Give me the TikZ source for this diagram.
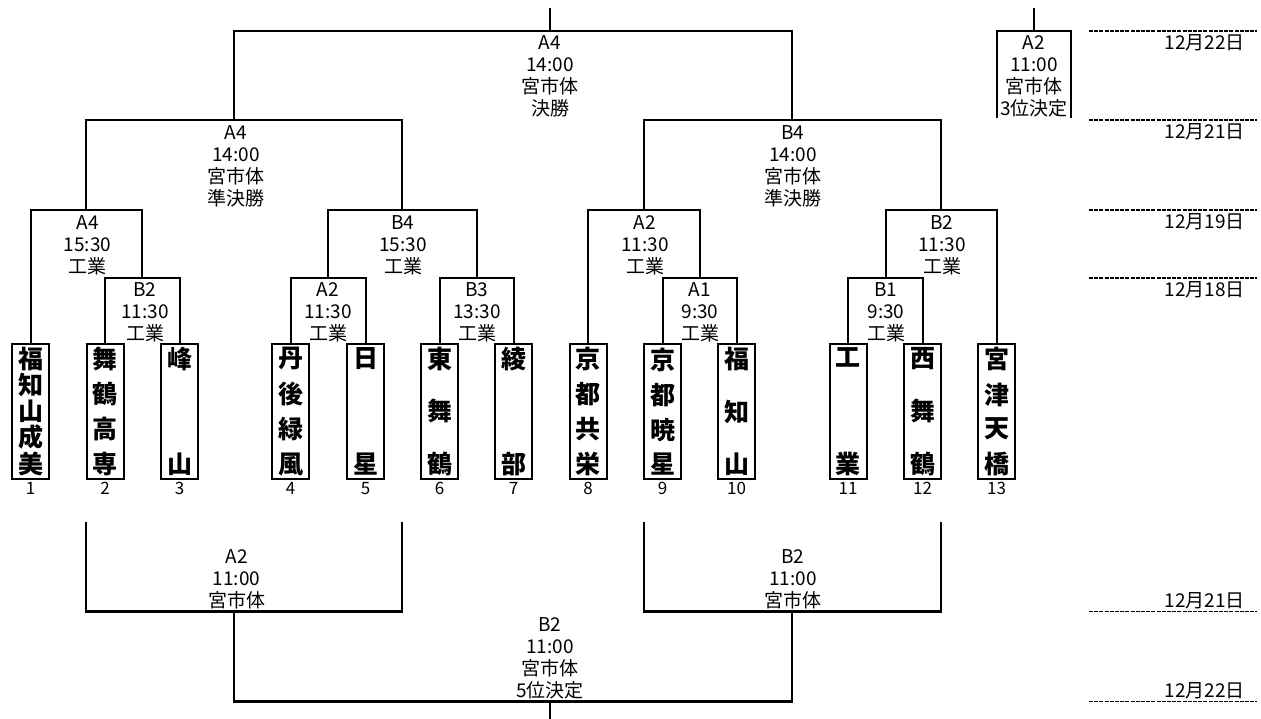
\documentclass[tikz,border=0pt]{standalone}
\usepackage{fontspec}
\setmainfont{Noto Sans CJK JP}
\newcommand\vnm[1]{\vbox to 126pt{\offinterlineskip #1}}
\newcommand\ch[1]{\hbox to 25pt{\hss #1\hss}}
\begin{document}
\begin{tikzpicture}[x=1pt,y=-1pt,
  br/.style={line width=2pt},
  brb/.style={line width=2.5pt},
  team/.style={draw, line width=2pt, minimum width=37pt, minimum height=135pt, inner sep=0pt, font=\fontsize{25}{25}\selectfont\bfseries},
  lbl/.style={align=center, inner sep=0pt, font=\fontsize{19}{22}\selectfont},
  num/.style={inner sep=0pt, anchor=north, font=\fontsize{17}{17}\selectfont},
  datel/.style={line width=1.4pt, dash pattern=on 4pt off 1.2pt},
  datet/.style={inner sep=0pt, font=\fontsize{19}{22}\selectfont}]
\useasboundingbox (0,0) rectangle (1261,719);

% team boxes
\node[team] (t1) at (30.5,411.5) {\vnm{\ch{福}\vfill\ch{知}\vfill\ch{山}\vfill\ch{成}\vfill\ch{美}}};
\node[team] (t2) at (105,411.5) {\vnm{\ch{舞}\vfill\ch{鶴}\vfill\ch{高}\vfill\ch{専}}};
\node[team] (t3) at (179.5,411.5) {\vnm{\ch{峰}\vfill\ch{山}}};
\node[team] (t4) at (290.5,411.5) {\vnm{\ch{丹}\vfill\ch{後}\vfill\ch{緑}\vfill\ch{風}}};
\node[team] (t5) at (365.5,411.5) {\vnm{\ch{日}\vfill\ch{星}}};
\node[team] (t6) at (439.5,411.5) {\vnm{\ch{東}\vfill\ch{舞}\vfill\ch{鶴}}};
\node[team] (t7) at (513.5,411.5) {\vnm{\ch{綾}\vfill\ch{部}}};
\node[team] (t8) at (588,411.5) {\vnm{\ch{京}\vfill\ch{都}\vfill\ch{共}\vfill\ch{栄}}};
\node[team] (t9) at (662.5,411.5) {\vnm{\ch{京}\vfill\ch{都}\vfill\ch{暁}\vfill\ch{星}}};
\node[team] (t10) at (736.5,411.5) {\vnm{\ch{福}\vfill\ch{知}\vfill\ch{山}}};
\node[team] (t11) at (848,411.5) {\vnm{\ch{工}\vfill\ch{業}}};
\node[team] (t12) at (922.5,411.5) {\vnm{\ch{西}\vfill\ch{舞}\vfill\ch{鶴}}};
\node[team] (t13) at (996.5,411.5) {\vnm{\ch{宮}\vfill\ch{津}\vfill\ch{天}\vfill\ch{橋}}};

% numbers
\foreach \i in {1,...,13} { \node[num] (n\i) at ([yshift=-2pt]t\i.south) {\i}; }

% match points
\coordinate (b2a) at (142,278);
\coordinate (a4a) at (86,210);
\coordinate (a2a) at (328,278);
\coordinate (b3a) at (477,278);
\coordinate (b4a) at (402,210);
\coordinate (semiL) at (234,120);
\coordinate (a1) at (699.5,278);
\coordinate (b1) at (885.5,278);
\coordinate (a2b) at (644,210);
\coordinate (b2b) at (941,210);
\coordinate (semiR) at (792,120);
\coordinate (final) at (550,31);
\coordinate (finaltop) at (550,8);

% brackets
\draw[br] (t2.north) |- (b2a) -| (t3.north);
\draw[br] (t1.north) |- (a4a) -| (b2a);
\draw[br] (t4.north) |- (a2a) -| (t5.north);
\draw[br] (t6.north) |- (b3a) -| (t7.north);
\draw[br] (a2a) |- (b4a) -| (b3a);
\draw[br] (a4a) |- (semiL) -| (b4a);
\draw[br] (t9.north) |- (a1) -| (t10.north);
\draw[br] (t8.north) |- (a2b) -| (a1);
\draw[br] (t11.north) |- (b1) -| (t12.north);
\draw[br] (b1) |- (b2b) -| (t13.north);
\draw[br] (a2b) |- (semiR) -| (b2b);
\draw[br] (semiL) |- (final) -| (semiR);
\draw[br] (final) -- (finaltop);

% third place
\coordinate (thl) at (997,118);
\coordinate (thr) at (1071,118);
\coordinate (th) at (1034,31);
\coordinate (thtop) at (1034,8);
\draw[br] (thl) |- (th) -| (thr);
\draw[br] (th) -- (thtop);

% fifth place
\coordinate (c5a) at (86,522);
\coordinate (c5b) at (402,522);
\coordinate (c5c) at (644,522);
\coordinate (c5d) at (941,522);
\coordinate (fA) at (234,611.5);
\coordinate (fB) at (792,611.5);
\coordinate (fifth) at (550,701.5);
\coordinate (fifthbot) at (550,719);
\draw[brb] (c5a) |- (fA) -| (c5b);
\draw[brb] (c5c) |- (fB) -| (c5d);
\draw[brb] (fA) |- (fifth) -| (fB);
\draw[br] (fifth) -- (fifthbot);

% labels
\node[lbl, anchor=north] (lfinal) at (550,35) {A4\\14:00\\宮市体\\決勝};
\node[lbl, anchor=north] (lsemiL) at (236,125) {A4\\14:00\\宮市体\\準決勝};
\node[lbl, anchor=north] (lsemiR) at (793,125) {B4\\14:00\\宮市体\\準決勝};
\node[lbl, anchor=north] (la4a) at (87.5,215) {A4\\15:30\\工業};
\node[lbl, anchor=north] (lb4a) at (403,215) {B4\\15:30\\工業};
\node[lbl, anchor=north] (la2b) at (645,215) {A2\\11:30\\工業};
\node[lbl, anchor=north] (lb2b) at (942,215) {B2\\11:30\\工業};
\node[lbl, anchor=north] (lb2a) at (145,282) {B2\\11:30\\工業};
\node[lbl, anchor=north] (la2a) at (328,282) {A2\\11:30\\工業};
\node[lbl, anchor=north] (lb3a) at (477,282) {B3\\13:30\\工業};
\node[lbl, anchor=north] (la1) at (700,282) {A1\\9:30\\工業};
\node[lbl, anchor=north] (lb1) at (886,282) {B1\\9:30\\工業};
\node[lbl, anchor=north] (lth) at (1034,35) {A2\\11:00\\宮市体\\3位決定};
\node[lbl, anchor=south] (lfA) at (236.5,609.5) {A2\\11:00\\宮市体};
\node[lbl, anchor=south] (lfB) at (793,609.5) {B2\\11:00\\宮市体};
\node[lbl, anchor=south] (lfifth) at (550,699.5) {B2\\11:00\\宮市体\\5位決定};

% date lines
\foreach \y/\n in {31/d1,120/d2,210/d3,278/d4,611.5/d5,701.5/d6} {
  \coordinate (\n a) at (1089,\y);
  \coordinate (\n b) at (1257,\y);
  \draw[datel] (\n a) -- (\n b);
}
\node[datet, anchor=north east] (dt1) at (1245,34) {12月22日};
\node[datet, anchor=north east] (dt2) at (1245,123) {12月21日};
\node[datet, anchor=north east] (dt3) at (1245,213) {12月19日};
\node[datet, anchor=north east] (dt4) at (1245,281) {12月18日};
\node[datet, anchor=south east] (dt5) at (1245,609) {12月21日};
\node[datet, anchor=south east] (dt6) at (1245,699) {12月22日};
\end{tikzpicture}
\end{document}
